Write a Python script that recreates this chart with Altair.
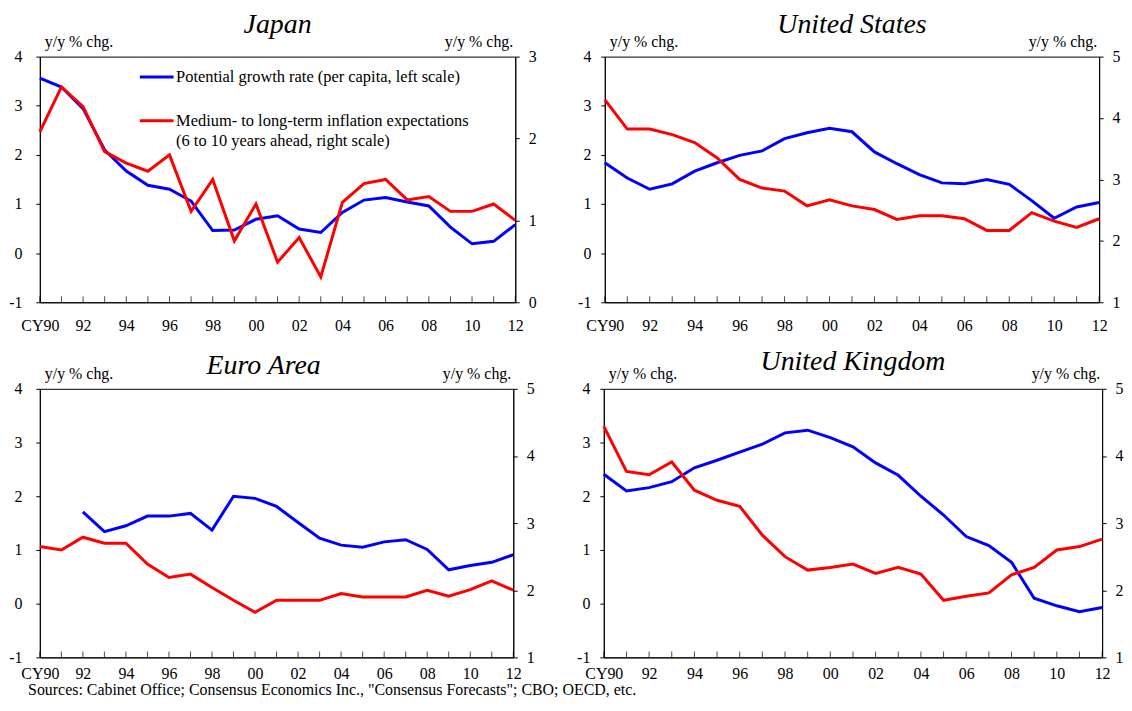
import altair as alt
import pandas as pd

years = list(range(1990, 2013))

jp_growth = [3.56, 3.38, 2.94, 2.10, 1.67, 1.38, 1.30, 1.06, 0.46, 0.47, 0.69, 0.76, 0.49,
             0.42, 0.83, 1.08, 1.13, 1.04, 0.96, 0.53, 0.19, 0.24, 0.58]
jp_infl = [2.08, 2.63, 2.39, 1.84, 1.70, 1.60, 1.80, 1.11, 1.50, 0.75, 1.20, 0.49, 0.79,
           0.31, 1.22, 1.45, 1.50, 1.25, 1.29, 1.11, 1.11, 1.20, 1.00]

us_growth = [1.84, 1.53, 1.30, 1.41, 1.67, 1.84, 1.99, 2.08, 2.33, 2.45, 2.54, 2.47, 2.06,
             1.82, 1.60, 1.43, 1.41, 1.50, 1.40, 1.07, 0.71, 0.94, 1.03]
us_infl = [4.30, 3.82, 3.82, 3.73, 3.60, 3.35, 3.00, 2.86, 2.81, 2.57, 2.67, 2.57, 2.51,
           2.35, 2.41, 2.41, 2.36, 2.17, 2.17, 2.46, 2.32, 2.22, 2.36]

ea_growth = [None, None, 1.71, 1.34, 1.45, 1.63, 1.63, 1.68, 1.37, 2.00, 1.96, 1.81, 1.51,
             1.22, 1.09, 1.05, 1.15, 1.19, 1.01, 0.63, 0.71, 0.77, 0.91]
ea_infl = [2.65, 2.60, 2.79, 2.70, 2.70, 2.39, 2.19, 2.24, 2.04, 1.85, 1.67, 1.85, 1.85,
           1.85, 1.95, 1.90, 1.90, 1.90, 2.00, 1.91, 2.01, 2.14, 2.00]

uk_growth = [2.41, 2.10, 2.16, 2.27, 2.53, 2.67, 2.82, 2.97, 3.18, 3.23, 3.09, 2.92, 2.62,
             2.39, 2.00, 1.65, 1.25, 1.08, 0.77, 0.10, -0.04, -0.15, -0.07]
uk_infl = [4.44, 3.77, 3.72, 3.91, 3.49, 3.34, 3.25, 2.82, 2.50, 2.30, 2.34, 2.39, 2.25,
           2.34, 2.24, 1.85, 1.91, 1.96, 2.23, 2.34, 2.60, 2.65, 2.76]

left_ticks = [-1, 0, 1, 2, 3, 4]
x_label_years = list(range(1990, 2013, 2))
UNIT = "y/y % chg."

S1 = "Potential growth rate (per capita, left scale)"
S2 = "Medium- to long-term inflation expectations|(6 to 10 years ahead, right scale)"
SOURCE = 'Sources: Cabinet Office; Consensus Economics Inc., "Consensus Forecasts"; CBO; OECD, etc.'

FONT = "Liberation Serif"
BLUE = "#0000ff"
RED = "#ff0000"
LF = 16


def panel(title, growth, infl, rdomain, width, height, toff, tdx=0, legend=False,
          lpad=10, xpad=16):
    gdf = pd.DataFrame({"year": years, "value": growth, "series": S1}).dropna()
    idf = pd.DataFrame({"year": years, "value": infl, "series": S2})
    tdf = pd.DataFrame({"year": years, "value": [-1] * len(years)})
    ltxt = pd.DataFrame({"year": [1990], "value": [4], "t": [UNIT]})
    rtxt = pd.DataFrame({"year": [2012], "value": [rdomain[1]], "t": [UNIT]})

    x = alt.X("year:Q",
              scale=alt.Scale(domain=[1990, 2012], nice=False, zero=False),
              axis=alt.Axis(values=x_label_years, title=None, grid=False, ticks=False,
                            labelExpr="datum.value == 1990 ? 'CY90' : substring(toString(datum.value), 2)",
                            labelFlush=False, labelOverlap=False, labelPadding=xpad,
                            labelFont=FONT, labelFontSize=LF, labelColor="black",
                            domainColor="black"))
    yl = alt.Y("value:Q",
               scale=alt.Scale(domain=[-1, 4], nice=False, zero=False),
               axis=alt.Axis(orient="left", values=left_ticks, grid=False, title=None,
                             labelExpr="toString(datum.value)",
                             labelFont=FONT, labelFontSize=LF, labelColor="black",
                             labelPadding=lpad, tickSize=4, tickColor="black",
                             domainColor="black"))
    rvals = list(range(int(rdomain[0]), int(rdomain[1]) + 1))
    yr = alt.Y("value:Q",
               scale=alt.Scale(domain=rdomain, nice=False, zero=False),
               axis=alt.Axis(orient="right", values=rvals, grid=False, title=None,
                             labelExpr="toString(datum.value)",
                             labelFont=FONT, labelFontSize=LF, labelColor="black",
                             labelPadding=9, tickSize=4, tickColor="black",
                             domainColor="black"))

    if legend:
        cscale = alt.Scale(domain=[S1, S2], range=[BLUE, RED])
        cg = alt.Color("series:N", scale=cscale,
                       legend=alt.Legend(orient="none", legendX=99, legendY=2, title=None,
                                         symbolType="stroke", symbolStrokeWidth=3,
                                         symbolSize=1150, padding=0, rowPadding=17,
                                         labelOffset=1,
                                         labelFont=FONT, labelFontSize=16.5,
                                         labelColor="black", labelLimit=500,
                                         labelExpr="split(datum.label, '|')"))
        ci = cg
    else:
        cg = alt.value(BLUE)
        ci = alt.value(RED)

    blue = alt.Chart(gdf).mark_line(strokeWidth=3).encode(x=x, y=yl, color=cg)
    ticks = alt.Chart(tdf).mark_tick(orient="vertical", size=6, thickness=1,
                                     color="black", yOffset=-3).encode(x=x, y=yl)
    lt = alt.Chart(ltxt).mark_text(align="left", baseline="alphabetic", dx=5, dy=-10,
                                   font=FONT, fontSize=16, color="black").encode(
        x=x, y=yl, text="t:N")
    red = alt.Chart(idf).mark_line(strokeWidth=3).encode(x=x, y=yr, color=ci)
    rt = alt.Chart(rtxt).mark_text(align="right", baseline="alphabetic", dx=-2, dy=-10,
                                   font=FONT, fontSize=16, color="black").encode(
        x=x, y=yr, text="t:N")

    return alt.layer(alt.layer(blue, ticks, lt), alt.layer(red, rt)).resolve_scale(
        y="independent").properties(
        width=width, height=height,
        title=alt.TitleParams(title, font=FONT, fontSize=28, fontStyle="italic",
                              fontWeight="normal", color="black", frame="group",
                              baseline="alphabetic", offset=toff, dx=tdx))


jp = panel("Japan", jp_growth, jp_infl, [0, 3], 478, 247, -27, legend=True, lpad=14, xpad=15)
us = panel("United States", us_growth, us_infl, [1, 5], 497, 247, -27, lpad=10, xpad=15)
ea = panel("Euro Area", ea_growth, ea_infl, [1, 5], 476, 270, -36, tdx=-13, lpad=14, xpad=8)
uk = panel("United Kingdom", uk_growth, uk_infl, [1, 5], 501, 270, -32, lpad=10, xpad=8)

top = alt.hconcat(jp, us, spacing=40).resolve_scale(color="independent")
bottom = alt.hconcat(ea, uk, spacing=41)

chart = alt.concat(top, bottom, columns=1, spacing=13, align="none").properties(
    title=alt.TitleParams(SOURCE, orient="bottom", anchor="start", frame="bounds",
                          font=FONT, fontSize=16, fontWeight="normal", color="black",
                          offset=0, dx=20),
    padding={"left": 0, "top": 0, "right": 0, "bottom": 0},
).configure(style={"guide-label": {"lineHeight": 20}}).configure_view(
    stroke="black", strokeWidth=1)

chart.save("out.html", embed_options={"renderer": "svg", "actions": False})
